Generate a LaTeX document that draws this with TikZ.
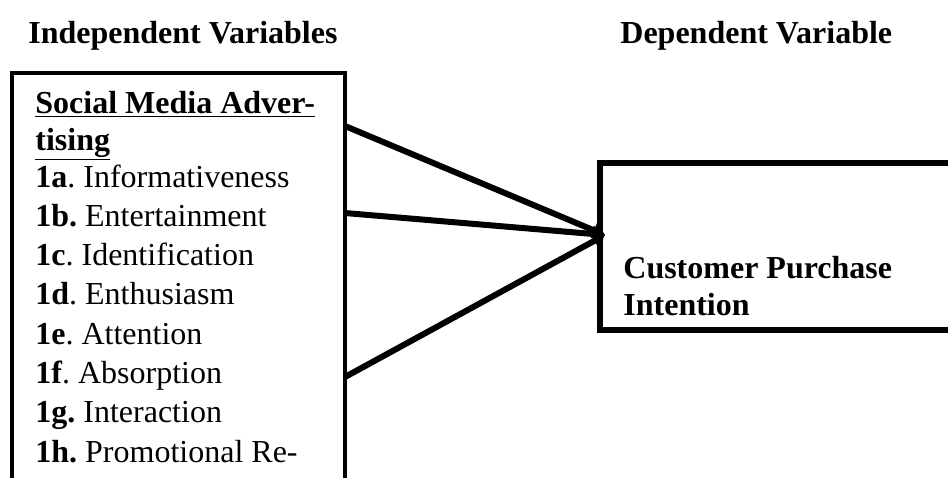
\documentclass[tikz,border=0pt]{standalone}
\usepackage{fontspec}
\setmainfont{Liberation Serif}
\usetikzlibrary{arrows.meta}

\begin{document}
\begin{tikzpicture}[x=0.5pt,y=-0.5pt,font=\fontsize{16pt}{19.4pt}\selectfont,
    txt/.style={anchor=base west,inner sep=0pt},
    varbox/.style={draw,line width=2pt,anchor=north west,inner sep=0pt,outer sep=0pt},
    link/.style={line width=3pt,-{Triangle[length=6pt,width=8pt]}}]
  \useasboundingbox (0,0) rectangle (948,477);
  \clip (0,0) rectangle (948,477);
  \node[txt] (indeptitle) at (28,43) {\textbf{Independent Variables}};
  \node[txt] (deptitle) at (620,43) {\textbf{Dependent Variable}};
  \node[varbox,minimum width=166.5pt,minimum height=250pt] (indep) at (12,73) {};
  \node[varbox,line width=3pt,minimum width=200pt,minimum height=83.5pt] (dep) at (600,163) {};
  \node[txt] (sma1) at (35,113) {\underline{\textbf{Social Media Adver-}}};
  \node[txt] (sma2) at (35,150) {\underline{\textbf{tising}}};
  \foreach \lbl/\factor [count=\i] in {{\textbf{1a}.}/Informativeness,{\textbf{1b.}}/Entertainment,
      {\textbf{1c}.}/Identification,{\textbf{1d}.}/Enthusiasm,{\textbf{1e}.}/Attention,
      {\textbf{1f}.}/Absorption,{\textbf{1g.}}/Interaction,{\textbf{1h.}}/Promotional Re-}
    \node[txt] (item\i) at (35,{147.7+39.3*\i}) {\lbl\ \factor};
  \node[txt] (cpi1) at (623,278) {\textbf{Customer Purchase}};
  \node[txt] (cpi2) at (623,315) {\textbf{Intention}};
  \coordinate (tip) at ([xshift=2.5pt,yshift=-36pt]dep.north west);
  \foreach \dy in {26.5,70,152}
    \draw[link] ([yshift=-\dy pt]indep.north east) -- (tip);
\end{tikzpicture}
\end{document}
